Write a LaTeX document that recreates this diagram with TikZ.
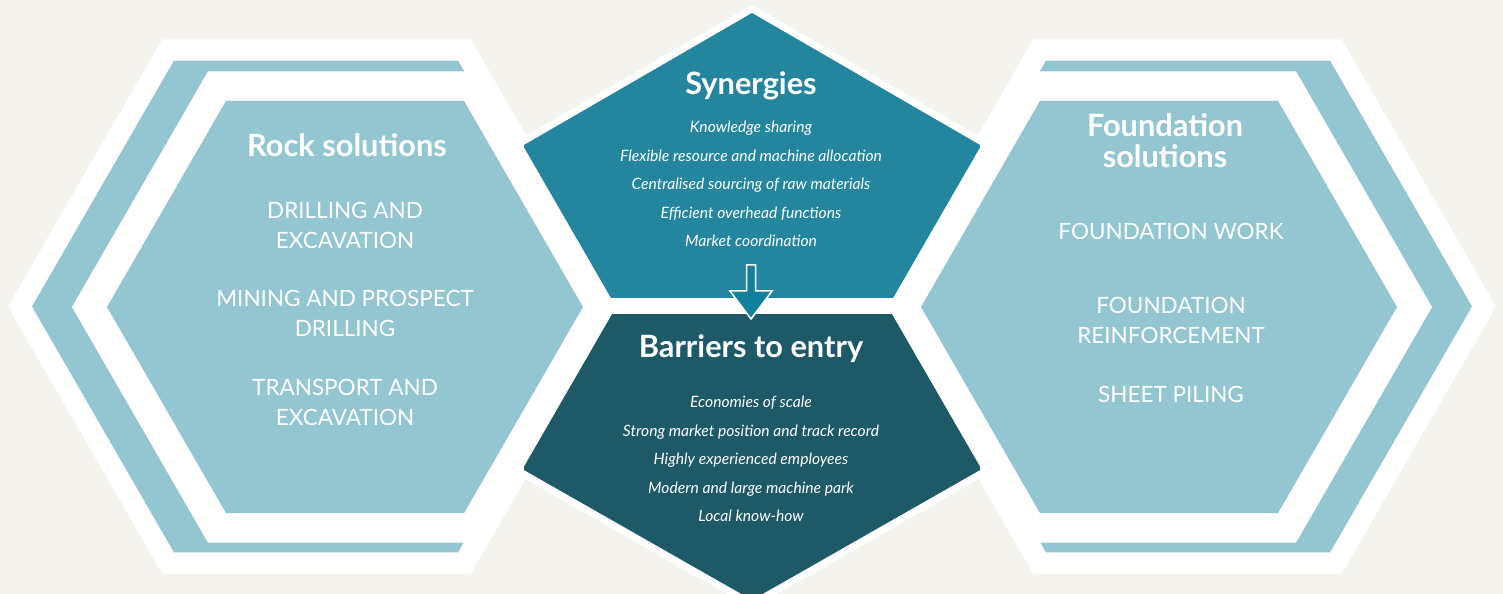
\documentclass[tikz,border=0pt]{standalone}
\usepackage{fontspec}
\setmainfont{Lato}
\usepackage{tikz}
\definecolor{paper}{HTML}{F5F3EE}
\definecolor{pale}{HTML}{93C6D1}
\definecolor{synteal}{HTML}{23869E}
\definecolor{barteal}{HTML}{1E5967}
\definecolor{arrowteal}{HTML}{12809D}

\begin{document}
\begin{tikzpicture}[x=0.02cm,y=-0.02cm,
  title/.style={text=white,font=\fontsize{17.5}{17.6}\selectfont\bfseries,align=center},
  caps/.style={text=white,font=\fontsize{12.8}{17.1}\selectfont,align=center},
  items/.style={text=white,font=\fontsize{8.9}{16.2}\selectfont\itshape,align=center}]
  \useasboundingbox (0,0) rectangle (1503,594);
  \fill[paper] (0,0) rectangle (1503,594);
  % outer white frame and pale band, left and mirrored right
  \foreach \cx/\r/\col in {316.5/308.5/white,316/284/pale}
    {\fill[\col] (\cx,306.5) ++(0:\r) -- ++(120:\r) -- ++(180:\r) -- ++(240:\r) -- ++(300:\r) -- ++(0:\r) -- cycle;
     \fill[\col] ({1504-\cx},306.5) ++(0:\r) -- ++(120:\r) -- ++(180:\r) -- ++(240:\r) -- ++(300:\r) -- ++(0:\r) -- cycle;}
  % middle block: white rim, synergies on top, barriers below
  \filldraw[white,line width=0.28cm,line join=miter] (752,13) -- (980,145) -- (980,470) -- (752,600) -- (524,470) -- (524,145) -- cycle;
  \fill[synteal] (752,13) -- (980,145) -- (980,298) -- (524,298) -- (524,145) -- cycle;
  \fill[barteal] (524,314) -- (980,314) -- (980,470) -- (752,600) -- (524,470) -- cycle;
  \coordinate (tip) at (751,319);
  \filldraw[fill=arrowteal,draw=white,line width=0.03cm] (tip) -- ++(-21,-28) -- ++(16.5,0) -- ++(0,-26) -- ++(9,0) -- ++(0,26) -- ++(16.5,0) -- cycle;
  % inner white ring and pale face
  \foreach \cx/\r/\col in {344/272/white,345/238/pale}
    {\fill[\col] (\cx,307) ++(0:\r) -- ++(120:\r) -- ++(180:\r) -- ++(240:\r) -- ++(300:\r) -- ++(0:\r) -- cycle;
     \fill[\col] ({1504-\cx},307) ++(0:\r) -- ++(120:\r) -- ++(180:\r) -- ++(240:\r) -- ++(300:\r) -- ++(0:\r) -- cycle;}

  \node[title] (rock) at (347,145) {Rock solutions};
  \node[caps] (drill) at (345,225) {DRILLING AND\\EXCAVATION};
  \node[caps] (mining) at (345,313) {MINING AND PROSPECT\\DRILLING};
  \node[caps] (transport) at (345,402) {TRANSPORT AND\\EXCAVATION};

  \node[title] (syn) at (751,86) {Synergies};
  \node[items] (synlist) at (751,184) {Knowledge sharing\\Flexible resource and machine allocation\\Centralised sourcing of raw materials\\Efficient overhead functions\\Market coordination};
  \node[title] (barrier) at (751,349) {Barriers to entry};
  \node[items] (barlist) at (751,459) {Economies of scale\\Strong market position and track record\\Highly experienced employees\\Modern and large machine park\\Local know-how};

  \node[title] (found) at (1165,141) {Foundation\\solutions};
  \node[caps] (fwork) at (1171,231) {FOUNDATION WORK};
  \node[caps] (freinf) at (1171,320) {FOUNDATION\\REINFORCEMENT};
  \node[caps] (sheet) at (1171,394) {SHEET PILING};
\end{tikzpicture}
\end{document}
